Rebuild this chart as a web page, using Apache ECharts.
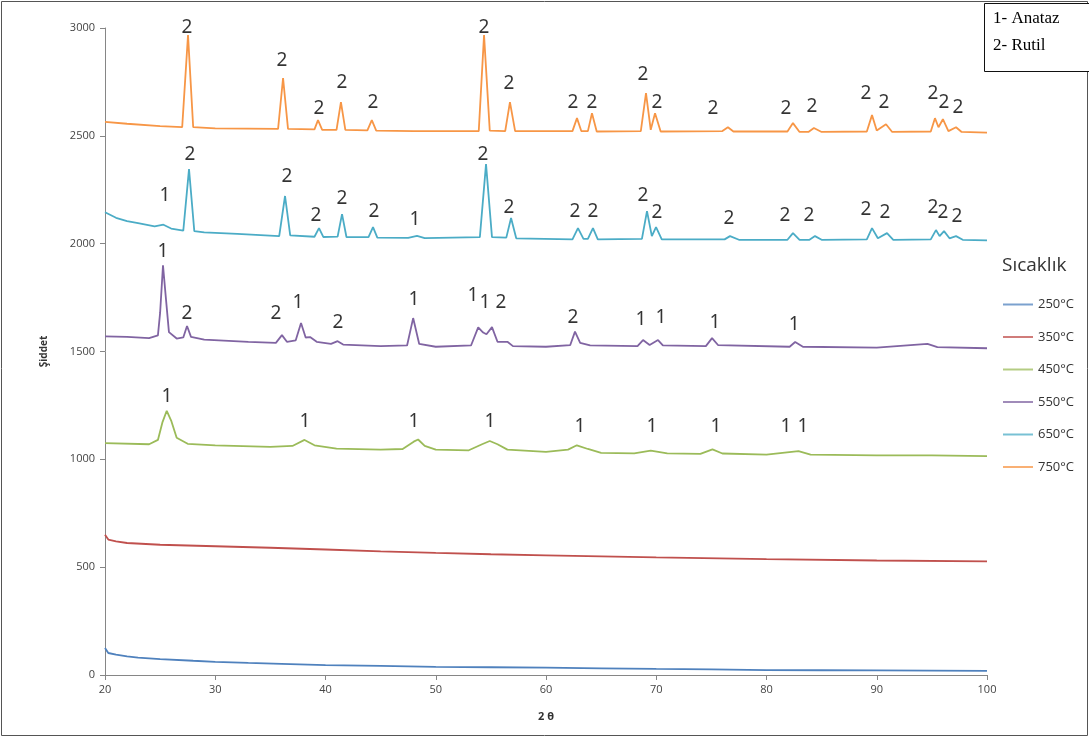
<!DOCTYPE html>
<html><head><meta charset="utf-8">
<script src="https://cdn.jsdelivr.net/npm/echarts@6/dist/echarts.min.js"></script>
<style>html,body{margin:0;padding:0;background:#fff}#c{width:1089px;height:737px}</style>
</head><body><div id="c"></div>
<script>
const seriesNames = ['250°C','350°C','450°C','550°C','650°C','750°C'];
const xTicks = [20,30,40,50,60,70,80,90,100];
const yTicks = [0,500,1000,1500,2000,2500,3000];

const s250 = [[20,125],[20.3,102],[21,94],[22,86],[23,81],[25,74],[28,66],[30,61],[33,56],[36,52],[40,46],[45,42],[50,38],[55,36],[60,34],[65,31],[70,28],[75,26],[80,23],[85,22],[90,21],[95,20],[100,19]];
const s350 = [[20,650],[20.3,628],[21,620],[22,612],[25,604],[30,597],[35,590],[40,582],[45,573],[50,566],[55,560],[60,555],[70,545],[80,537],[90,531],[100,527]];
const s450 = [[20,1075],[24,1070],[24.8,1090],[25.2,1170],[25.6,1225],[26.0,1180],[26.5,1100],[27.5,1072],[30,1065],[35,1058],[37,1062],[38.1,1090],[39,1065],[41,1050],[45,1045],[47,1048],[48.0,1082],[48.4,1092],[49,1062],[50,1045],[53,1042],[54.2,1070],[54.9,1085],[55.6,1070],[56.5,1045],[60,1035],[62,1045],[62.8,1065],[63.8,1048],[65,1030],[68,1028],[69.5,1040],[71,1028],[74,1025],[75.1,1046],[76,1027],[80,1022],[82.9,1038],[84,1022],[90,1018],[95,1018],[100,1015]];
const s550 = [[20,1570],[22,1568],[24,1562],[24.8,1575],[25.0,1680],[25.26,1900],[25.5,1760],[25.8,1590],[26.5,1560],[27.1,1565],[27.44,1618],[27.8,1568],[29,1555],[33,1545],[35.5,1540],[36.05,1576],[36.5,1545],[37.3,1552],[37.78,1632],[38.2,1565],[38.6,1567],[39.2,1545],[40.5,1535],[41.1,1548],[41.6,1532],[45,1525],[47.4,1528],[47.95,1655],[48.5,1535],[50,1522],[53.2,1528],[53.85,1612],[54.3,1588],[54.6,1580],[55.1,1613],[55.6,1545],[56.5,1545],[57,1525],[60,1522],[62.2,1530],[62.63,1592],[63.1,1540],[64,1528],[68.3,1525],[68.8,1553],[69.4,1530],[70.16,1553],[70.6,1528],[74.5,1525],[75.06,1562],[75.6,1530],[82.1,1522],[82.6,1544],[83.3,1522],[90,1518],[94.6,1535],[95.5,1520],[100,1515]];
const s650 = [[20,2146],[21,2120],[22,2105],[23,2095],[24.5,2080],[25.3,2088],[26,2070],[27.1,2060],[27.62,2346],[28.1,2058],[29,2052],[32,2045],[35.8,2035],[36.33,2221],[36.8,2038],[39,2032],[39.41,2072],[39.8,2031],[41.1,2033],[41.5,2137],[41.9,2031],[43.9,2030],[44.31,2077],[44.7,2028],[47.5,2027],[48.3,2036],[49,2026],[54.0,2030],[54.56,2369],[55.1,2030],[56.4,2028],[56.83,2119],[57.3,2025],[62.4,2020],[62.9,2072],[63.4,2022],[63.8,2022],[64.26,2072],[64.7,2020],[68.7,2022],[69.16,2151],[69.6,2035],[69.98,2077],[70.5,2020],[76.2,2020],[76.69,2035],[77.5,2018],[81.9,2018],[82.4,2049],[83.0,2018],[83.9,2018],[84.4,2035],[85,2018],[89.1,2020],[89.57,2072],[90.1,2025],[90.93,2049],[91.5,2018],[94.9,2020],[95.37,2063],[95.7,2035],[96.1,2058],[96.6,2025],[97.19,2035],[97.8,2018],[100,2015]];
const s750 = [[20,2565],[22,2556],[25,2545],[27.0,2540],[27.53,2967],[28.0,2540],[30,2535],[35.7,2532],[36.15,2768],[36.6,2532],[39.0,2530],[39.32,2573],[39.7,2528],[41.0,2528],[41.4,2656],[41.8,2528],[43.8,2525],[44.2,2573],[44.6,2524],[48,2522],[53.9,2522],[54.38,2967],[54.9,2524],[56.3,2522],[56.73,2656],[57.2,2522],[62.4,2522],[62.81,2582],[63.2,2522],[63.8,2522],[64.17,2605],[64.6,2520],[68.6,2522],[69.07,2698],[69.5,2528],[69.89,2605],[70.4,2520],[76.0,2522],[76.5,2540],[77,2520],[81.9,2520],[82.4,2559],[83,2518],[83.8,2518],[84.3,2536],[85,2518],[89.1,2520],[89.57,2596],[90,2525],[90.84,2554],[91.4,2518],[94.9,2520],[95.28,2582],[95.6,2540],[96.0,2577],[96.5,2522],[97.19,2540],[97.7,2518],[100,2515]];

const peakLabels = [
  [25.62,1289,'1'],[38.14,1173,'1'],[48.03,1173,'1'],[54.92,1173,'1'],[63.08,1150,'1'],[69.61,1150,'1'],[75.42,1150,'1'],[81.77,1150,'1'],[83.31,1150,'1'],
  [25.26,1961,'1'],[27.44,1674,'2'],[35.51,1674,'2'],[37.51,1729,'1'],[41.13,1632,'2'],[48.03,1739,'1'],[53.38,1757,'1'],[54.47,1729,'1'],[55.92,1729,'2'],[62.45,1655,'2'],[68.62,1646,'1'],[70.43,1655,'1'],[75.33,1632,'1'],[82.5,1623,'1'],
  [25.44,2221,'1'],[27.71,2415,'2'],[36.51,2310,'2'],[39.14,2130,'2'],[41.5,2211,'2'],[44.4,2151,'2'],[48.12,2110,'1'],[54.29,2415,'2'],[56.64,2165,'2'],[62.63,2151,'2'],[64.26,2151,'2'],[68.8,2221,'2'],[70.07,2146,'2'],[76.6,2114,'2'],[81.68,2128,'2'],[83.86,2128,'2'],[89.03,2160,'2'],[90.75,2146,'2'],[95.1,2165,'2'],[96.0,2142,'2'],[97.28,2124,'2'],
  [27.44,3004,'2'],[36.05,2850,'2'],[39.41,2624,'2'],[41.5,2749,'2'],[44.31,2656,'2'],[54.38,3004,'2'],[56.64,2740,'2'],[62.45,2656,'2'],[64.17,2656,'2'],[68.8,2782,'2'],[70.07,2656,'2'],[75.15,2624,'2'],[81.77,2624,'2'],[84.13,2634,'2'],[89.03,2698,'2'],[90.66,2656,'2'],[95.1,2698,'2'],[96.1,2656,'2'],[97.37,2629,'2']
];
const phaseKey = ['1- Anataz','2- Rutil'];
const legendTitle = 'Sıcaklık';

const colors = ['#4F81BD','#C0504D','#9BBB59','#8064A2','#4BACC6','#F79646'];
const allData = [s250,s350,s450,s550,s650,s750];

const chart = echarts.init(document.getElementById('c'));
const lineSeries = allData.map((d,i)=>({
  name: seriesNames[i], type:'line', data:d, symbol:'none', showSymbol:false,
  lineStyle:{width:1.8,color:colors[i]}, itemStyle:{color:colors[i]}, silent:true, z:2
}));
chart.setOption({
  animation:false,
  backgroundColor:'#fff',
  grid:{left:105,right:102,top:28,bottom:62},
  xAxis:{type:'value',min:xTicks[0],max:xTicks[xTicks.length-1],interval:10,
    name:'2 θ',nameLocation:'middle',nameGap:36,
    nameTextStyle:{fontFamily:'Open Sans',fontSize:11,fontWeight:'bold',color:'#333'},
    axisLine:{lineStyle:{color:'#868686'}},axisTick:{show:true,length:5,lineStyle:{color:'#868686'}},
    axisLabel:{margin:9,fontFamily:'Open Sans',fontSize:11,color:'#444',formatter:v=>String(v)},splitLine:{show:false}},
  yAxis:{type:'value',min:yTicks[0],max:yTicks[yTicks.length-1],interval:500,
    name:'Şiddet',nameLocation:'middle',nameGap:56,nameRotate:90,
    nameTextStyle:{fontFamily:'Open Sans',fontSize:10,fontWeight:'bold',color:'#333'},
    axisLine:{show:true,lineStyle:{color:'#868686'}},axisTick:{show:true,length:5,lineStyle:{color:'#868686'}},
    axisLabel:{margin:10,fontFamily:'Open Sans',fontSize:11,color:'#444',formatter:v=>String(v)},splitLine:{show:false}},
  legend:{orient:'vertical',left:998,top:293,itemWidth:30,itemHeight:12,itemGap:19.5,
    data:seriesNames,icon:'path://M0,0L30,0L30,2L0,2Z',itemStyle:{opacity:0.75},
    textStyle:{fontFamily:'Open Sans',fontSize:13,color:'#333'}},
  graphic:[
    {type:'rect',shape:{x:1.5,y:1.5,width:1086,height:734},style:{fill:null,stroke:'#555',lineWidth:1},silent:true},
    {type:'rect',shape:{x:984.5,y:3.5,width:110,height:68},style:{fill:'#fff',stroke:'#111',lineWidth:1},z:10},
    {type:'text',left:993,top:10,z:11,style:{text:phaseKey[0],font:'17px "Liberation Serif"',fill:'#000'}},
    {type:'text',left:993,top:37,z:11,style:{text:phaseKey[1],font:'17px "Liberation Serif"',fill:'#000'}},
    {type:'text',left:1002,top:256,z:11,style:{text:legendTitle,font:'19px "Open Sans"',fill:'#333'}}
  ],
  series: lineSeries.concat([{
    name:'labels',type:'scatter',data:peakLabels,symbolSize:0,clip:false,silent:true,z:5,
    label:{show:true,position:'inside',formatter:p=>p.value[2],fontFamily:'Noto Sans',fontSize:19,color:'#000'}
  }])
});
</script></body></html>
